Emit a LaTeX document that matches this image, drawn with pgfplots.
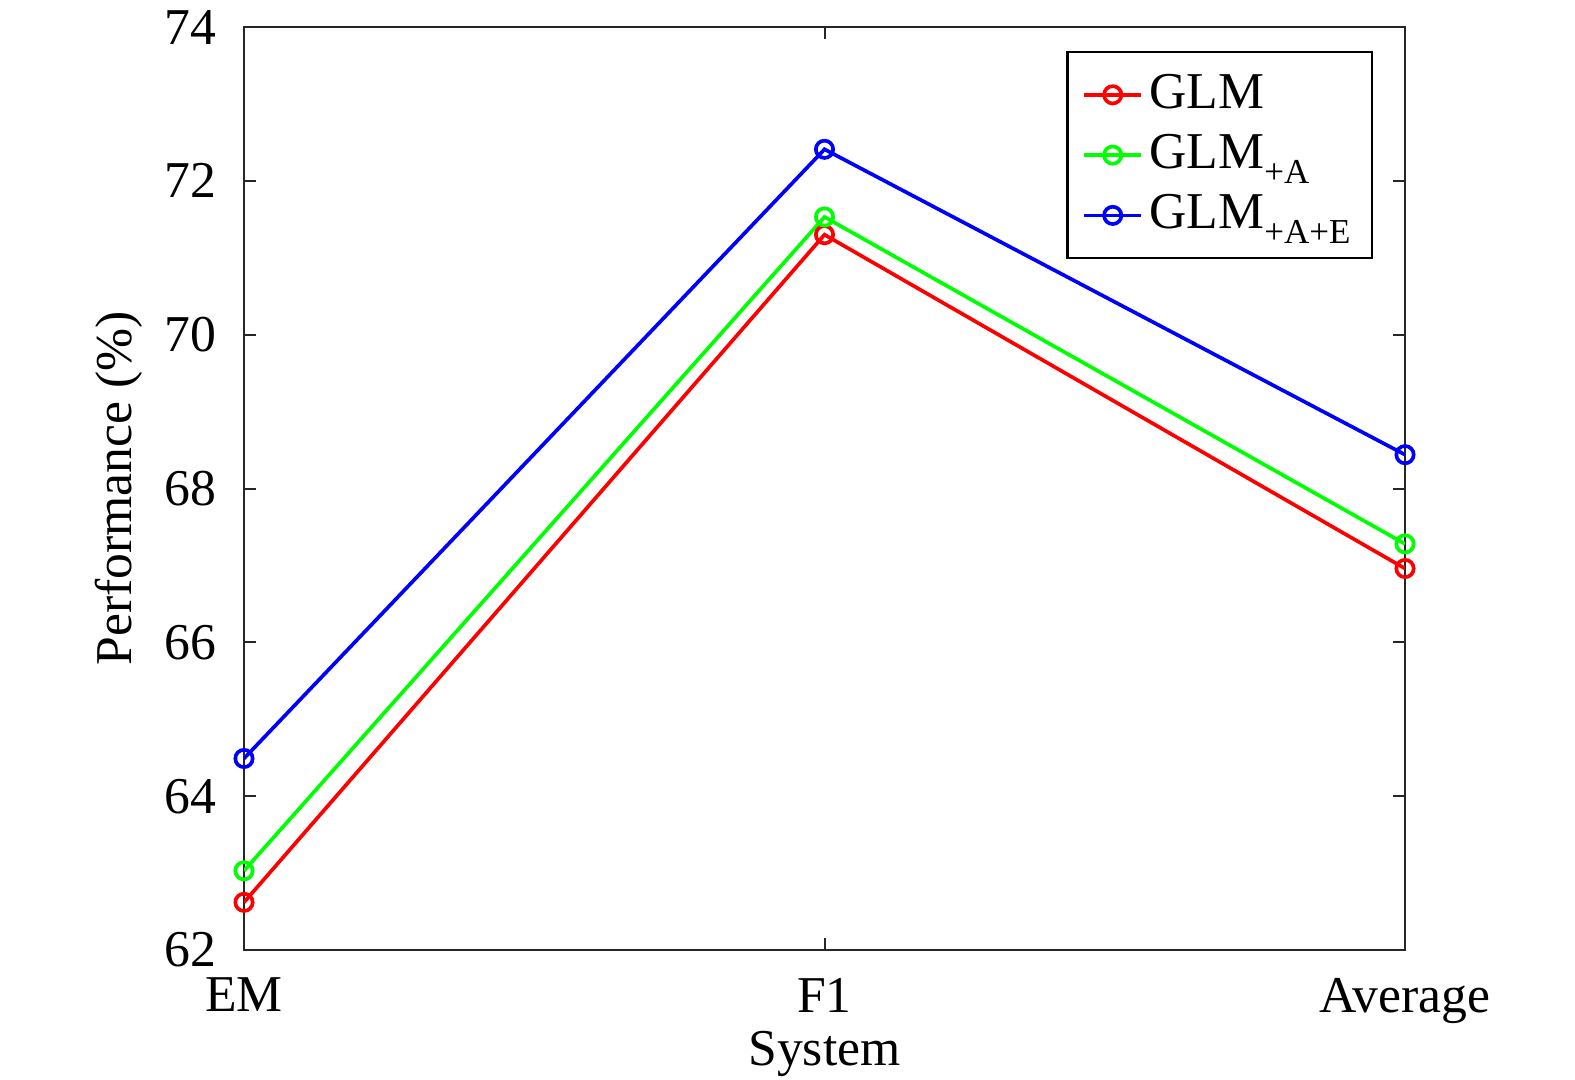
\documentclass[border=0pt]{standalone}
\usepackage{pgfplots}
\pgfplotsset{compat=1.18}
\usepackage{fontspec}
\setmainfont{Liberation Serif}
\newcommand{\sub}[1]{\raisebox{-4.5pt}{\fontsize{10.5}{10.5}\selectfont #1}}
\begin{document}
\fontsize{15.5}{18}\selectfont
\begin{tikzpicture}
\path[use as bounding box] (0pt,0pt) rectangle (472.5pt,-323.7pt);
\begin{axis}[
  at={(73.2pt,-285pt)}, anchor=south west,
  scale only axis, width=348.3pt, height=276.9pt,
  xmin=0, xmax=2, ymin=62, ymax=74,
  xtick={0,1,2}, xticklabels={EM,F1,Average},
  ytick={62,64,66,68,70,72,74},
  tick align=inside, major tick length=3.6pt,
  axis line style={black!85, line width=0.8pt},
  tick style={black!85, line width=0.6pt},
  /pgf/number format/assume math mode=true,
  ticklabel style={font=\fontsize{15.5}{18}\selectfont},
  yticklabel style={xshift=-3pt},
  xticklabel style={yshift=-3pt},
  xlabel={System}, ylabel={Performance (\%)},
  label style={font=\fontsize{15.5}{18}\selectfont},
  xlabel style={yshift=8pt},
  ylabel style={yshift=-4pt},
  legend style={at={(1,1)}, anchor=north east, xshift=-9.5pt, yshift=-7.2pt,
    draw=black, line width=0.7pt, font=\fontsize{15.5}{18}\selectfont,
    inner xsep=4.5pt, inner ysep=4.5pt, row sep=1.5pt},
  legend cell align=left,
  legend image code/.code={\draw[mark repeat=2,mark phase=2,#1] plot coordinates {(0pt,0pt)(8.5pt,0pt)(17pt,0pt)};},
  every axis plot/.append style={line width=1.1pt, mark=o, mark size=2.6pt, mark options={line width=1.1pt}},
]
\addplot[color=red] coordinates {(0,62.62) (1,71.30) (2,66.96)};
\addlegendentry{GLM}
\addplot[color=green] coordinates {(0,63.03) (1,71.53) (2,67.28)};
\addlegendentry{GLM\sub{+A}}
\addplot[color=blue] coordinates {(0,64.49) (1,72.41) (2,68.44)};
\addlegendentry{GLM\sub{+A+E}}
\end{axis}
\end{tikzpicture}
\end{document}
